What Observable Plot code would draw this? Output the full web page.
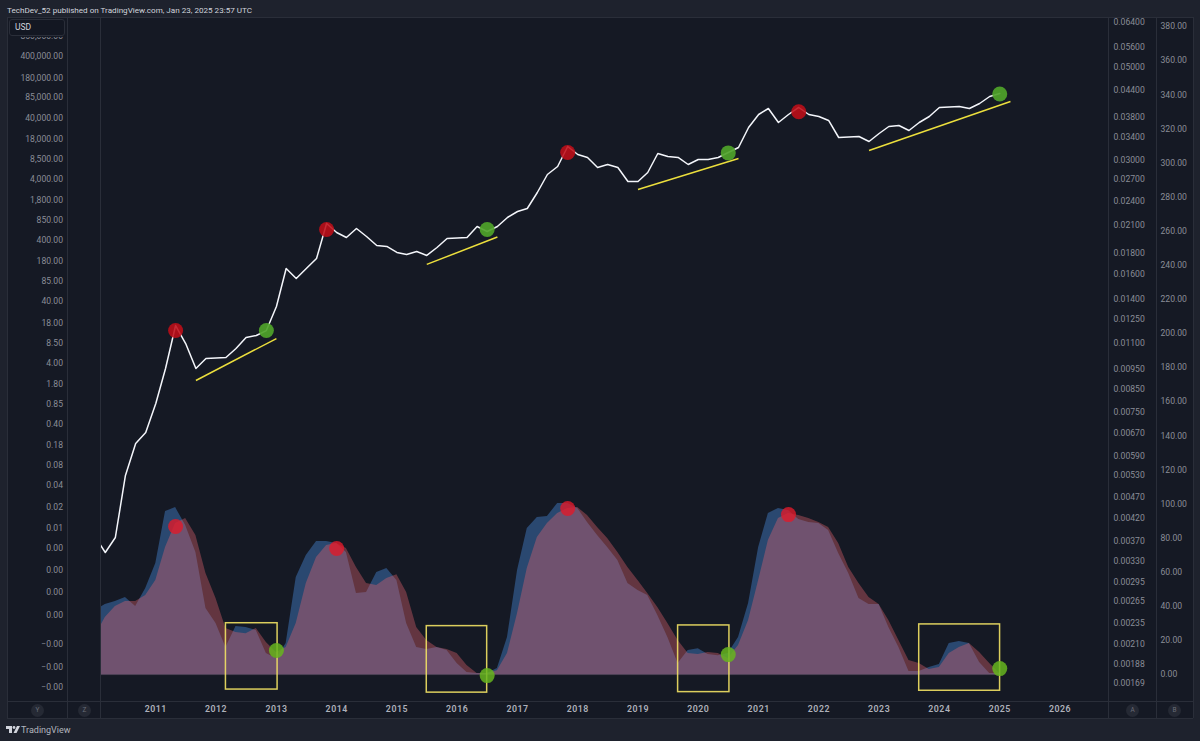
<!DOCTYPE html>
<html>
<head>
<meta charset="utf-8">
<script src="https://cdn.jsdelivr.net/npm/d3@7"></script>
<script src="https://cdn.jsdelivr.net/npm/@observablehq/plot@0.6"></script>
<style>
html,body{margin:0;padding:0;width:1200px;height:741px;overflow:hidden;background:#1e222d;font-family:Roboto,"Liberation Sans",sans-serif}
#stage{position:relative;width:1200px;height:741px}
#stage>svg{position:absolute;left:0;top:0}
.pane{position:absolute;background:#151924}
.ln{position:absolute;background:#2a2e39}
.txt{position:absolute;white-space:nowrap}
.badge{position:absolute;width:13px;height:13px;border-radius:50%;background:#252934;color:#6a6d78;font-size:6.5px;line-height:13px;text-align:center}
#usd{left:9px;top:19px;width:56px;height:17px;box-sizing:border-box;border:1px solid #2a2e39;border-radius:3px;background:#131722;color:#d1d4dc;font-size:8.5px;line-height:15px;padding-left:5px;box-shadow:0 1px 0 #151924}
g[aria-label="x-axis tick label"] text{letter-spacing:.5px}
</style>
</head>
<body>
<div id="stage">
  <div class="pane" style="left:7px;top:17px;width:1186px;height:701px"></div>
  <div class="ln" style="left:7px;top:17px;width:1186px;height:1px"></div>
  <div class="ln" style="left:7px;top:701px;width:1186px;height:1px"></div>
  <div class="ln" style="left:7px;top:718px;width:1186px;height:1px"></div>
  <div class="ln" style="left:7px;top:17px;width:1px;height:701px"></div>
  <div class="ln" style="left:67px;top:17px;width:1px;height:701px"></div>
  <div class="ln" style="left:100px;top:17px;width:1px;height:701px"></div>
  <div class="ln" style="left:1108px;top:17px;width:1px;height:701px"></div>
  <div class="ln" style="left:1156px;top:17px;width:1px;height:701px"></div>
  <div class="ln" style="left:1193px;top:17px;width:1px;height:701px"></div>
</div>
<script>
// ---- data ----
const barDates = d3.utcMonth.range(new Date(Date.UTC(2010,0,1)), new Date(Date.UTC(2025,1,1)), 2);
const priceValues = [0.00568,0.00323,0.00568,0.0583,0.194,0.293,0.872,3.25,16.3,8.30,3.25,4.73,4.82,4.91,6.88,10.4,11.2,13.5,33.3,139,95.5,139,202,754,538,445,625,462,330,318,254,235,263,227,306,429,437,445,673,558,673,944,1183,1324,2415,4750,6415,13600,10070,9000,6180,6915,6180,3650,3650,5120,10460,9340,9000,6915,8340,8340,9000,10850,13100,27770,45260,56700,33500,45260,58880,45260,41980,36130,19070,19440,19810,16410,22170,28830,29940,24810,33500,41980,58880,59980,61120,56700,68420,89000,99600];
const blueValues = [37.5,41.1,42.8,45.2,39.9,50.4,65.1,95.6,97.9,87.4,71.6,38.7,29.9,15.8,28.2,27.6,25.8,12.3,9.4,18.2,56.9,69.8,78.0,78.0,76.8,71.6,47.5,48.1,59.8,62.2,55.1,29.9,15.8,14.7,15.8,14.1,6.5,1.2,0.6,0.6,3.5,21.7,61,85.6,92.1,92.7,100.3,100.3,97.4,89.1,81.5,74.5,66.9,53.4,49.3,46.3,34.6,21.7,6.5,14.1,15.2,11.7,11.1,12.3,21.7,41.6,74.5,94.4,97.4,96.2,90.9,89.1,88.6,84.5,71,59.2,44.6,41.1,41.1,27.6,15.8,1.8,1.8,4.1,5.9,18.2,19.4,18.2,7,0.6,0.6];
const redValues = [22.9,33.4,39.9,42.8,42.8,46.3,55.1,74.5,88.6,91.5,81.5,59.2,44.6,27,24.6,24,27,18.8,12.9,15.8,29.9,53.4,68.6,75.7,76.8,73.9,62.8,53.4,52.2,56.3,58.6,48.1,27.6,19.9,15.8,14.7,12.3,5.3,0.6,0.6,2.3,12.3,35.8,62.2,80.4,88.6,94.4,97.4,97.9,93.3,86.2,79.8,71.6,62.8,55.1,47.5,39.3,29.9,19.9,12.3,11.7,12.9,12.3,9.4,17,31.7,55.1,78.6,91.5,94.4,93.3,91.5,89.1,86.2,76.8,62.8,53.4,45.2,41.1,31.7,19.9,8.2,6.5,2.9,4.1,12.3,15.8,18.2,12.9,6.5,0.6];

const topDates = ["2011-05-01","2013-11-01","2017-11-01","2021-09-01"];
const topPrices = [13.5,602,10850,50100];
const lowDates = ["2012-11-01","2016-07-01","2020-07-01","2025-01-01"];
const lowPrices = [13.5,602,10700,97700];
const oscTopDates = ["2011-05-01","2014-01-01","2017-11-01","2021-07-01"];
const oscTopValues = [86.8,73.9,97.4,93.8];
const oscLowDates = ["2013-01-01","2016-07-01","2020-07-01","2025-01-01"];
const oscLowValues = [14.1,-0.6,11.7,3.5];

const trendStarts = ["2011-09-01","2015-07-01","2019-01-01","2022-11-01"];
const trendEnds = ["2013-01-01","2016-09-01","2020-09-01","2025-03-07"];
const trendStartPrices = [2.07,162,2704,11700];
const trendEndPrices = [10.0,454,8665,73800];

const boxStarts = ["2012-03-01","2015-07-01","2019-09-01","2023-09-01"];
const boxEnds = ["2013-01-08","2016-07-01","2020-07-08","2025-01-03"];
const boxTops = [30.1,28.4,28.8,29.4];
const boxBottoms = [-8.8,-10.6,-10.3,-9.5];

const leftTickValues = [850000,400000,180000,85000,40000,18000,8500,4000,1800,850,400,180,85,40,18,8.5,4,1.8,0.85,0.4,0.18,0.085,0.04,0.018,0.00796,0.00375,0.00164,0.000719,0.000303,0.000102,0.000043,0.0000203];
const leftTickLabels = ["850,000.00","400,000.00","180,000.00","85,000.00","40,000.00","18,000.00","8,500.00","4,000.00","1,800.00","850.00","400.00","180.00","85.00","40.00","18.00","8.50","4.00","1.80","0.85","0.40","0.18","0.08","0.04","0.02","0.01","0.00","0.00","0.00","0.00","−0.00","−0.00","−0.00"];
const midTicks = [0.064,0.056,0.05,0.044,0.038,0.034,0.03,0.027,0.024,0.021,0.018,0.016,0.014,0.0125,0.011,0.0095,0.0085,0.0075,0.0067,0.0059,0.0053,0.0047,0.0042,0.0037,0.0033,0.00295,0.00265,0.00235,0.0021,0.00188,0.00169];
const rightTicks = [0,20,40,60,80,100,120,140,160,180,200,220,240,260,280,300,320,340,360,380];
const yearTicks = ["2011","2012","2013","2014","2015","2016","2017","2018","2019","2020","2021","2022","2023","2024","2025","2026"];

// ---- tables ----
const d = s => new Date(s + "T00:00:00Z");
const series = barDates.map((date,i)=>({date,price:priceValues[i],blue:blueValues[i],red:redValues[i]}));
const zip = (xs,ys) => xs.map((x,i)=>({x:d(x),y:ys[i]}));
const trends = trendStarts.map((s,i)=>({x1:d(s),x2:d(trendEnds[i]),y1:trendStartPrices[i],y2:trendEndPrices[i]}));
const boxes = boxStarts.map((s,i)=>({x1:d(s),x2:d(boxEnds[i]),y1:boxBottoms[i],y2:boxTops[i]}));
const leftLabel = new Map(leftTickValues.map((v,i)=>[v,leftTickLabels[i]]));

const FONT = 'Roboto,"Liberation Sans",sans-serif';
const AXIS = "#8a8d97";
const base = {
  width:1200,height:741,marginLeft:101,marginRight:92,marginTop:17,marginBottom:40,
  x:{type:"utc",domain:[new Date(Date.UTC(2010,1,6)),new Date(Date.UTC(2026,9,22))]},
  style:{background:"transparent",color:AXIS,fontFamily:FONT,fontSize:"8.6px",overflow:"visible"}
};

const oscPlot = Plot.plot({...base,
  y:{type:"linear",domain:[-15.8,385.3],axis:null},
  marks:[
    Plot.axisX({ticks:yearTicks.map(y=>d(y+"-01-01")),tickSize:0,tickPadding:4,tickFormat:t=>d3.utcFormat("%Y")(t),label:null,fill:"#aeb1ba",fontWeight:600,fontSize:8.8}),
    Plot.axisY({anchor:"right",ticks:rightTicks,tickSize:0,tickPadding:52,tickFormat:v=>v.toFixed(2),label:null}),
    Plot.areaY(series,{x:"date",y:"blue",fill:"rgb(42,72,112)",clip:true}),
    Plot.areaY(series,{x:"date",y:"red",fill:"rgb(225,100,110)",fillOpacity:0.38,clip:true}),
    Plot.ruleY([0],{x1:series[0].date,x2:series[series.length-1].date,stroke:"#4f4459",strokeWidth:1,clip:true}),
    Plot.rect(boxes,{x1:"x1",x2:"x2",y1:"y1",y2:"y2",fill:"none",stroke:"#f2e264",strokeOpacity:0.9,strokeWidth:1.5}),
    Plot.dot(zip(oscTopDates,oscTopValues),{x:"x",y:"y",r:7.5,fill:"#e01a2b",fillOpacity:0.8}),
    Plot.dot(zip(oscLowDates,oscLowValues),{x:"x",y:"y",r:7.5,fill:"#66b51e",fillOpacity:0.85})
  ]
});

const midPlot = Plot.plot({...base,
  x:{...base.x,axis:null},
  y:{type:"log",domain:[0.00153,0.0658],axis:null},
  marks:[
    Plot.text(midTicks,{y:v=>v,text:v=>v.toFixed(5),frameAnchor:"right",textAnchor:"start",dx:5,fill:AXIS})
  ]
});

const pricePlot = Plot.plot({...base,
  x:{...base.x,axis:null},
  y:{type:"log",domain:[1.197e-5,1.731e6]},
  marks:[
    Plot.axisY({anchor:"left",ticks:leftTickValues,tickSize:0,tickPadding:38.5,tickFormat:v=>leftLabel.get(v),label:null}),
    Plot.line(series,{x:"date",y:"price",stroke:"#f4f6fb",strokeWidth:1.5,clip:true}),
    Plot.link(trends,{x1:"x1",x2:"x2",y1:"y1",y2:"y2",stroke:"#ecdf3d",strokeWidth:1.5}),
    Plot.dot(zip(topDates,topPrices),{x:"x",y:"y",r:7.5,fill:"#bf0e18",fillOpacity:0.88}),
    Plot.dot(zip(lowDates,lowPrices),{x:"x",y:"y",r:7.5,fill:"#4fa32a",fillOpacity:0.92})
  ]
});

const stage = document.getElementById("stage");
[oscPlot,midPlot,pricePlot].forEach(p=>stage.appendChild(p));

stage.insertAdjacentHTML("beforeend",`
  <div class="txt" style="left:7px;top:4px;font-size:8.1px;line-height:12px;color:#d1d4dc">TechDev_52 published on TradingView.com, Jan 23, 2025 23:57 UTC</div>
  <div class="txt" id="usd">USD</div>
  <div class="badge" style="left:31px;top:704px">Y</div>
  <div class="badge" style="left:78px;top:704px">Z</div>
  <div class="badge" style="left:1126px;top:704px">A</div>
  <div class="badge" style="left:1168px;top:704px">B</div>
  <svg width="14" height="8" style="left:6px;top:726px;position:absolute" viewBox="0 0 14 8"><path d="M0 0H6V7H3V3H0Z M11 0L14 0L10.5 7H7.5Z" fill="#d1d4dc"/><circle cx="8" cy="1.5" r="1.4" fill="#d1d4dc"/></svg>
  <div class="txt" style="left:21px;top:724px;font-size:9px;line-height:13px;color:#b2b5be">TradingView</div>
`);
</script>
</body>
</html>
